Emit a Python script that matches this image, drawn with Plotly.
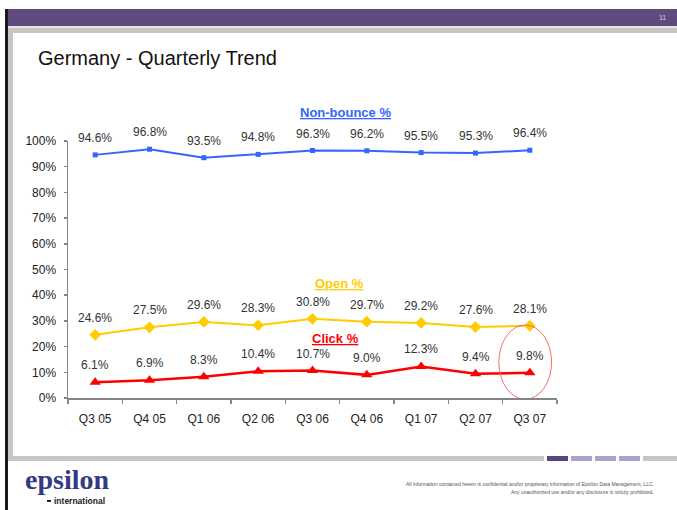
import plotly.graph_objects as go

W, H = 677, 510

quarters = ["Q3 05", "Q4 05", "Q1 06", "Q2 06", "Q3 06", "Q4 06", "Q1 07", "Q2 07", "Q3 07"]
non_bounce = [94.6, 96.8, 93.5, 94.8, 96.3, 96.2, 95.5, 95.3, 96.4]
open_rate = [24.6, 27.5, 29.6, 28.3, 30.8, 29.7, 29.2, 27.6, 28.1]
click_rate = [6.1, 6.9, 8.3, 10.4, 10.7, 9.0, 12.3, 9.4, 9.8]

BLUE = "#3366FF"
GOLD = "#FFCC00"
RED = "#FF0000"
PURPLE = "#614A7E"
LPURPLE = "#AFA2C8"
FRAME = "#C9C5C1"
AXIS = "#858585"
FONT = "Arial, Liberation Sans, sans-serif"


def px(x):
    return x / W


def py(y):
    return 1 - y / H


fig = go.Figure()

series = [
    ("Non-bounce %", non_bounce, BLUE, "square", 5, 2),
    ("Open %", open_rate, GOLD, "diamond", 9, 2),
    ("Click %", click_rate, RED, "triangle-up", 10, 2.5),
]
for name, vals, col, sym, ms, lw in series:
    fig.add_trace(go.Scatter(
        x=quarters, y=vals, mode="lines+markers", name=name,
        line=dict(color=col, width=lw),
        marker=dict(symbol=sym, size=ms, color=col),
        showlegend=False, hoverinfo="skip",
    ))

annotations = []
for name, vals, col, sym, ms, lw in series:
    for q, v in zip(quarters, vals):
        annotations.append(dict(
            x=q, y=v, xref="x", yref="y", text=f"{v:.1f}%", showarrow=False,
            yshift=17, font=dict(family=FONT, size=12, color="#333333"),
        ))

# series name labels
for text, col, x, y in [("Non-bounce %", BLUE, 345, 112),
                        ("Open %", GOLD, 339, 283),
                        ("Click %", RED, 335, 338)]:
    annotations.append(dict(
        x=px(x), y=py(y), xref="paper", yref="paper", showarrow=False,
        text=f'<b><span style="text-decoration:underline">{text}</span></b>',
        font=dict(family=FONT, size=13, color=col), xanchor="center", yanchor="middle",
    ))

# slide title and decorations
annotations += [
    dict(x=px(36), y=py(58), xref="paper", yref="paper", showarrow=False,
         text="Germany - Quarterly Trend", xanchor="left", yanchor="middle",
         font=dict(family=FONT, size=20, color="#111111")),
    dict(x=px(662), y=py(17.5), xref="paper", yref="paper", showarrow=False,
         text="11", xanchor="center", yanchor="middle",
         font=dict(family=FONT, size=7, color="#D8D0E4")),
    dict(x=px(23), y=py(497), xref="paper", yref="paper", showarrow=False,
         text="<b>epsilon</b>", xanchor="left", yanchor="bottom",
         font=dict(family="Liberation Serif, Times New Roman, serif", size=28, color="#343A82")),
    dict(x=px(52), y=py(501), xref="paper", yref="paper", showarrow=False,
         text="<b>international</b>", xanchor="left", yanchor="middle",
         font=dict(family=FONT, size=8.5, color="#222222")),
    dict(x=px(656), y=py(483.5), xref="paper", yref="paper", showarrow=False,
         text="All information contained herein is confidential and/or proprietary information of Epsilon Data Management, LLC.",
         xanchor="right", yanchor="middle", font=dict(family=FONT, size=5, color="#555555")),
    dict(x=px(656), y=py(492), xref="paper", yref="paper", showarrow=False,
         text="Any unauthorized use and/or any disclosure is strictly prohibited.",
         xanchor="right", yanchor="middle", font=dict(family=FONT, size=5, color="#555555")),
]

shapes = []


def rect(x0, y0, x1, y1, color):
    shapes.append(dict(type="rect", xref="paper", yref="paper",
                       x0=px(x0), x1=px(x1), y0=py(y1), y1=py(y0),
                       fillcolor=color, line=dict(width=0), layer="below"))


rect(6, 9, W, 26, PURPLE)
rect(6, 26, W, 28, "#E6E3E0")
rect(8, 28, W, 33, FRAME)
rect(8, 28, 13, 461, FRAME)
rect(8, 456, 544, 461, FRAME)
rect(547, 456, 568, 461, "#5A4580")
rect(571, 456, 592, 461, LPURPLE)
rect(595, 456, 616, 461, LPURPLE)
rect(619, 456, 640, 461, LPURPLE)
rect(643, 456, W, 461, FRAME)
rect(5, 9, 8, H, "#1A1A1A")
rect(47, 500, 51, 502, "#222222")

# highlight ellipse around the last click value
last = len(quarters) - 1
shapes.append(dict(type="circle", xref="x", yref="y",
                   x0=last - 0.57, x1=last + 0.4,
                   y0=-0.5, y1=click_rate[last] + 18.6,
                   line=dict(color="#F07070", width=1), layer="above"))

XDOM = [px(68), px(557)]
YDOM = [py(398), py(141)]
n = len(quarters)

fig.update_layout(
    template="none",
    width=W, height=H,
    margin=dict(l=0, r=0, t=0, b=0, pad=0, autoexpand=False),
    paper_bgcolor="white", plot_bgcolor="white",
    annotations=annotations, shapes=shapes,
    font=dict(family=FONT, size=12, color="#222222"),
    xaxis=dict(
        type="category", domain=XDOM, range=[-0.5, n - 0.5],
        automargin=False,
        showline=True, linecolor=AXIS, linewidth=1.5,
        ticks="outside", tickson="boundaries", ticklen=4, tickcolor=AXIS, tickwidth=1.5,
        ticklabelstandoff=9,
        showgrid=False, zeroline=False,
        tickfont=dict(family=FONT, size=12, color="#222222"),
    ),
    yaxis=dict(
        domain=YDOM, range=[0, 100], dtick=10, ticksuffix="%",
        automargin=False,
        showline=True, linecolor=AXIS, linewidth=1.5,
        ticks="outside", ticklen=3, tickcolor=AXIS, tickwidth=1.5,
        ticklabelstandoff=5,
        showgrid=False, zeroline=False,
        tickfont=dict(family=FONT, size=12, color="#222222"),
    ),
    # overlay axes that draw the inner half of the crossing tick marks
    xaxis2=dict(
        overlaying="x", anchor="y", side="bottom", domain=XDOM,
        range=[-0.5, n - 0.5], tickvals=[i - 0.5 for i in range(n + 1)],
        ticks="inside", ticklen=4, tickcolor=AXIS, tickwidth=1.5,
        showticklabels=False, showline=False, showgrid=False, zeroline=False,
        automargin=False,
    ),
    yaxis2=dict(
        overlaying="y", anchor="x", side="left", domain=YDOM,
        range=[0, 100], dtick=10,
        ticks="inside", ticklen=3, tickcolor=AXIS, tickwidth=1.5,
        showticklabels=False, showline=False, showgrid=False, zeroline=False,
        automargin=False,
    ),
)

fig.write_html("out.html",
               config={"displayModeBar": False, "staticPlot": True},
               post_script="document.body.style.margin='0';document.body.style.overflow='hidden';")
